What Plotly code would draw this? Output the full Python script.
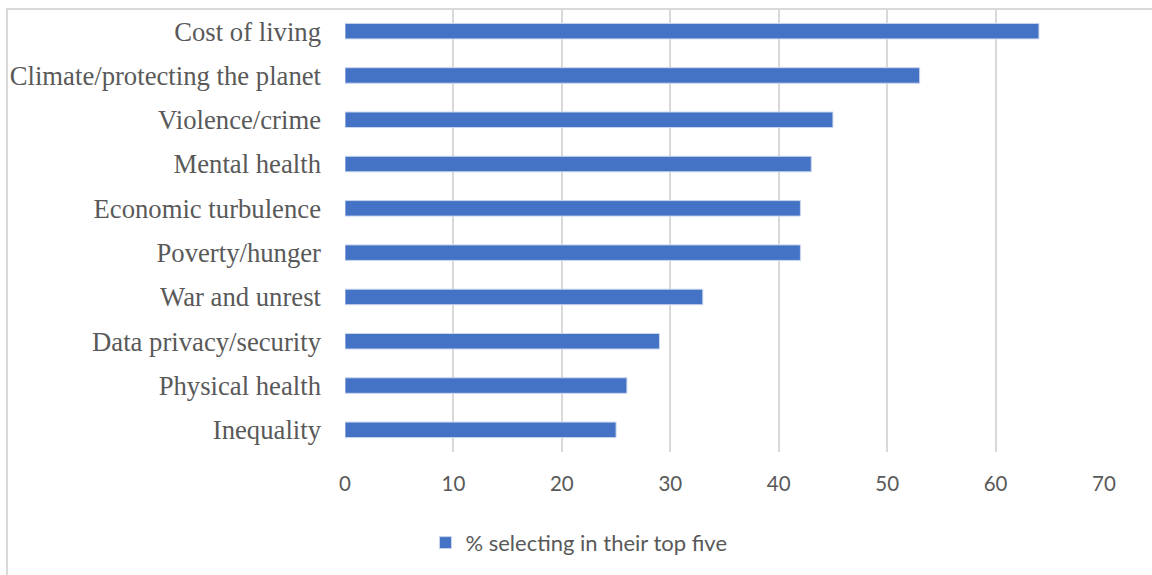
import plotly.graph_objects as go

categories = ["Cost of living", "Climate/protecting the planet", "Violence/crime",
              "Mental health", "Economic turbulence", "Poverty/hunger",
              "War and unrest", "Data privacy/security", "Physical health", "Inequality"]
values = [64, 53, 45, 43, 42, 42, 33, 29, 26, 25]
series_name = "% selecting in their top five"
x_ticks = [0, 10, 20, 30, 40, 50, 60, 70]

fig = go.Figure()
fig.add_trace(go.Bar(
    y=categories, x=values, orientation="h", name=series_name,
    marker=dict(color="#4472C4", line=dict(color="#c9d6ee", width=1)),
    showlegend=True,
))

W, H = 1152, 575
L, R, T, B = 345, 48, 9, 123

fig.update_layout(
    width=W, height=H,
    margin=dict(l=L, r=R, t=T, b=B, autoexpand=False),
    paper_bgcolor="white", plot_bgcolor="white",
    bargap=0.65,
    showlegend=True,
    legend=dict(orientation="h", x=0.106, xanchor="left", y=-0.205, yanchor="middle",
                font=dict(family="Lato, Carlito, sans-serif", size=22, color="#595959"),
                itemwidth=30),
    xaxis=dict(range=[0, 70], tickvals=x_ticks, showgrid=True, gridcolor="#d9d9d9",
               gridwidth=1.5, zeroline=False, showline=False, automargin=False,
               tickfont=dict(family="Lato, Carlito, sans-serif", size=20.5, color="#595959"),
               ticklabelstandoff=17),
    yaxis=dict(autorange="reversed", showgrid=False, zeroline=False, showline=False,
               automargin=False,
               tickfont=dict(family="Liberation Serif, Times New Roman, serif", size=26.7, color="#595959"),
               ticklabelstandoff=23),
    shapes=[dict(type="rect", xref="paper", yref="paper",
                 x0=(7 - L) / (W - L - R), x1=1.3, y0=-0.6, y1=1.0,
                 line=dict(color="#d9d9d9", width=2), fillcolor="rgba(0,0,0,0)", layer="below")],
)

fig.write_html("out.html")
